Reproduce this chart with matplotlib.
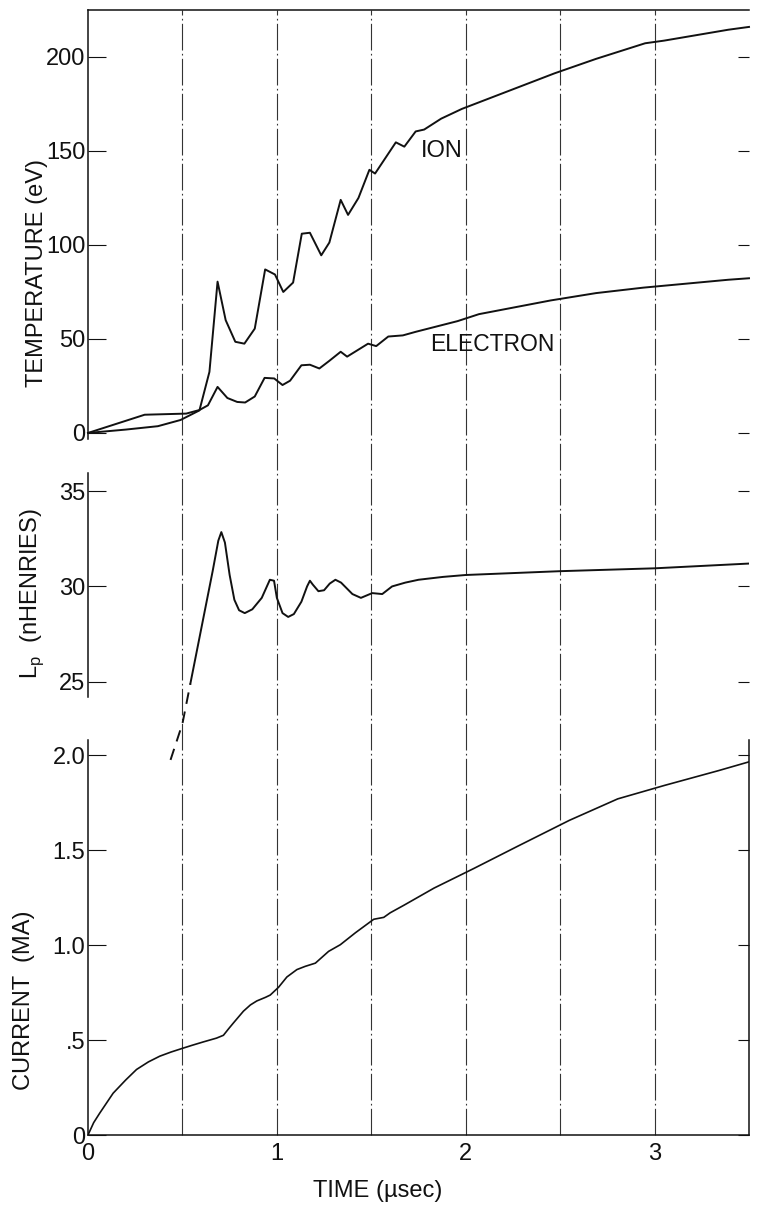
import matplotlib
matplotlib.use("Agg")
from matplotlib import pyplot as plt

plt.rcParams['font.family'] = ['Liberation Sans', 'DejaVu Sans']
plt.rcParams['mathtext.fontset'] = 'custom'
plt.rcParams['mathtext.rm'] = 'Liberation Sans'

# temperature panel (eV)
ion_t = [0, 0.2, 0.37, 0.49, 0.59, 0.643, 0.686, 0.729, 0.78, 0.828, 0.883, 0.938,
         0.99, 1.034, 1.086, 1.132, 1.175, 1.235, 1.278, 1.338, 1.377, 1.432, 1.49,
         1.52, 1.63, 1.675, 1.735, 1.78, 1.87, 1.98, 2.47, 2.69, 2.95, 3.05, 3.39, 3.5]
ion_T = [0, 1.8, 3.6, 6.9, 12, 32.5, 80.5, 60, 48.5, 47.5, 55.5, 87,
         84.3, 75, 80, 106, 106.5, 94.5, 101.3, 124, 116, 125, 140,
         138, 154.6, 152.3, 160.4, 161.4, 167.2, 172.4, 191.3, 199, 207.3, 208.7, 214.5, 216]
ele_t = [0, 0.30, 0.52, 0.59, 0.635, 0.686, 0.738, 0.79, 0.832, 0.883, 0.935, 0.986,
         1.03, 1.07, 1.13, 1.175, 1.225, 1.277, 1.338, 1.372, 1.483, 1.526, 1.59,
         1.667, 1.735, 1.957, 2.07, 2.45, 2.69, 2.94, 3.39, 3.5]
ele_T = [0, 9.7, 10.3, 12.2, 14.7, 24.5, 18.6, 16.5, 16.2, 19.4, 29.3, 29.0,
         25.5, 27.8, 36, 36.3, 34.3, 38.3, 43.2, 40.6, 47.5, 46.2, 51.3,
         51.9, 53.8, 59.5, 63.2, 70.5, 74.4, 77.3, 81.5, 82.3]

# plasma inductance (nH); first part is dashed
lp_dash_t = [0.437, 0.5, 0.542]
lp_dash_L = [20.9, 22.8, 24.9]
lp_t = [0.542, 0.60, 0.66, 0.69, 0.706, 0.725, 0.75, 0.775, 0.80, 0.83, 0.87, 0.92,
        0.963, 0.985, 1.00, 1.03, 1.06, 1.09, 1.13, 1.16, 1.175, 1.19, 1.22, 1.25,
        1.28, 1.31, 1.34, 1.40, 1.445, 1.505, 1.558, 1.61, 1.68, 1.75, 1.88, 2.0,
        2.5, 3.0, 3.5]
lp_L = [24.9, 27.8, 30.8, 32.4, 32.85, 32.3, 30.6, 29.3, 28.75, 28.6, 28.8, 29.4,
        30.35, 30.3, 29.4, 28.6, 28.4, 28.55, 29.2, 30.0, 30.3, 30.1, 29.75, 29.8,
        30.15, 30.35, 30.2, 29.6, 29.4, 29.65, 29.6, 30.0, 30.2, 30.35, 30.5, 30.6,
        30.8, 30.95, 31.2]

# current (MA)
cur_t = [0, 0.03, 0.062, 0.133, 0.2, 0.257, 0.32, 0.38, 0.44, 0.496, 0.55, 0.61,
         0.68, 0.717, 0.745, 0.77, 0.823, 0.86, 0.894, 0.94, 0.965, 1.009, 1.053,
         1.106, 1.15, 1.204, 1.274, 1.336, 1.416, 1.513, 1.566, 1.6, 1.673, 1.832,
         2.044, 2.274, 2.549, 2.805, 3.053, 3.336, 3.5]
cur_I = [0, 0.065, 0.115, 0.22, 0.29, 0.345, 0.385, 0.415, 0.437, 0.455, 0.472, 0.49,
         0.51, 0.525, 0.56, 0.59, 0.652, 0.685, 0.706, 0.725, 0.737, 0.778, 0.832,
         0.871, 0.888, 0.905, 0.967, 1.002, 1.065, 1.136, 1.146, 1.17, 1.21, 1.30,
         1.404, 1.52, 1.657, 1.77, 1.841, 1.918, 1.965]

temp_ticks = [0, 50, 100, 150, 200]
lp_ticks = [25, 30, 35]
cur_ticks = [0, 0.5, 1.0, 1.5, 2.0]
cur_ticklabels = ['0', '.5', '1.0', '1.5', '2.0']
time_ticks = [0, 1, 2, 3]
guide_t = [0.5, 1.0, 1.5, 2.0, 2.5, 3.0]

W, H = 757, 1205
fig = plt.figure(figsize=(W / 100, H / 100), dpi=100)
left = 88 / W
width = 661 / W
ax_t = fig.add_axes([left, 1 - 438.6 / H, width, 428.6 / H])
ax_l = fig.add_axes([left, 1 - 697 / H, width, 224 / H])
ax_c = fig.add_axes([left, 1 - 1135 / H, width, 395 / H])

ink = '#111111'
lw = 1.4
fs = 17

for ax in (ax_t, ax_l, ax_c):
    ax.set_xlim(0, 3.5)
    ax.patch.set_alpha(0)
    for s in ax.spines.values():
        s.set_linewidth(1.1)
        s.set_color(ink)
    ax.tick_params(axis='y', which='both', direction='in', length=13, width=0.8,
                   labelsize=fs, pad=2, colors=ink, right=True)
    ax.tick_params(axis='y', which='major', right=True)
    for t in ax.yaxis.get_major_ticks():
        t.tick2line.set_markersize(8)

# top panel
ax_t.set_ylim(-3, 225)
ax_t.plot(ion_t, ion_T, color=ink, lw=lw, clip_on=False)
ax_t.plot(ele_t, ele_T, color=ink, lw=lw, clip_on=False)
ax_t.set_yticks(temp_ticks)
ax_t.set_xticks([])
ax_t.spines['bottom'].set_visible(False)
ax_t.spines['right'].set_visible(False)
ax_t.text(1.76, 150, 'ION', fontsize=17, va='center', ha='left', color=ink)
ax_t.text(1.81, 47, 'ELECTRON', fontsize=16.5, va='center', ha='left', color=ink)
ax_t.set_ylabel('TEMPERATURE (eV)', fontsize=17, color=ink, va='center')
ax_t.yaxis.set_label_coords(-0.077, 0.386)

# middle panel
ax_l.set_ylim(24.2, 35.95)
ax_l.plot(lp_t, lp_L, color=ink, lw=lw)
ax_l.plot(lp_dash_t, lp_dash_L, color=ink, lw=lw, dashes=(6, 4), clip_on=False)
ax_l.set_yticks(lp_ticks)
ax_l.set_xticks([])
for s in ('top', 'bottom', 'right'):
    ax_l.spines[s].set_visible(False)
ax_l.set_ylabel(r'L$_{\rm p}$  (nHENRIES)', fontsize=17, color=ink, va='center')
ax_l.yaxis.set_label_coords(-0.085, 0.464)

# bottom panel
ax_c.set_ylim(0, 2.08)
ax_c.plot(cur_t, cur_I, color=ink, lw=1.2)
ax_c.set_yticks(cur_ticks)
ax_c.set_yticklabels(cur_ticklabels)
ax_c.set_xticks(time_ticks)
ax_c.set_xticklabels([str(v) for v in time_ticks])
ax_c.tick_params(axis='x', length=0, labelsize=fs, pad=6, colors=ink)
ax_c.spines['top'].set_visible(False)
ax_c.set_ylabel('CURRENT  (MA)', fontsize=17, color=ink, va='center')
ax_c.yaxis.set_label_coords(-0.097, 0.342)
ax_c.set_xlabel('TIME (\u00b5sec)', fontsize=17, color=ink)
ax_c.xaxis.set_label_coords(0.439, -0.114)

# dash-dot guide lines through all three panels
pos_t = ax_t.get_position()
pos_c = ax_c.get_position()
ymin = (pos_c.y0 - pos_t.y0) / pos_t.height
for g in guide_t:
    ax_t.axvline(g, ymin=ymin, ymax=1, color='#333333', lw=0.8,
                 dashes=(24, 3, 1.5, 3), clip_on=False, zorder=0)

fig.savefig('out.png', dpi=100)
